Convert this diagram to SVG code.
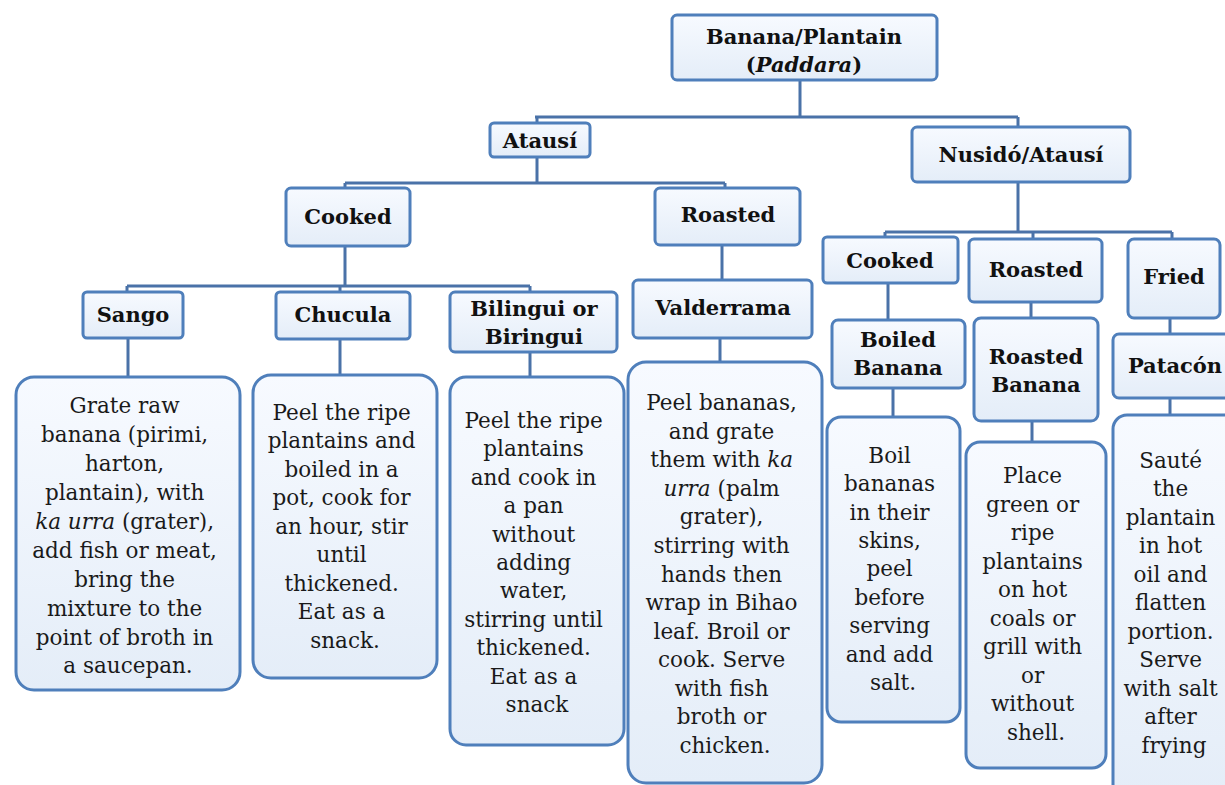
<svg xmlns="http://www.w3.org/2000/svg" width="1225" height="785" viewBox="0 0 1225 785">
<defs>
<linearGradient id="fill" x1="0" y1="0" x2="0" y2="1">
<stop offset="0" stop-color="#f7faff"/>
<stop offset="1" stop-color="#e4edf8"/>
</linearGradient>
<style>
.box{fill:url(#fill);stroke:#4f7fbb;stroke-width:3}
.lbl{font-family:"DejaVu Serif","Liberation Serif",serif;font-weight:bold;font-size:21px;fill:#111;text-anchor:middle}
.txt{font-family:"DejaVu Serif","Liberation Serif",serif;font-size:21.5px;fill:#1a1a1a;text-anchor:middle}
.it{font-style:italic}
.con{fill:none;stroke:#4a72a8;stroke-width:3}
</style>
</defs>
<rect width="1225" height="785" fill="#ffffff"/>
<g id="connectors" class="con">
<path d="M800,80 V117 M535,117 H1018 M537,117 V123 M1018,117 V127"/>
<path d="M537,157 V183 M345,183 H725 M345,183 V188 M725,183 V188"/>
<path d="M345,246 V286 M127,286 H530 M127,286 V292 M340,286 V292 M530,286 V292"/>
<path d="M722,245 V280"/>
<path d="M128,338 V377 M340,339 V375 M530,352 V377 M720,338 V362"/>
<path d="M1018,182 V232 M885,232 H1172 M885,232 V237 M1033,232 V239 M1172,232 V239"/>
<path d="M888,283 V320 M1031,302 V318 M1170,318 V334"/>
<path d="M893,388 V417 M1032,421 V442 M1170,398 V415"/>
</g>
<g id="root"><rect class="box" x="672" y="15" width="265" height="65" rx="5"/>
<text class="lbl" x="804" y="44">Banana/Plantain</text>
<text class="lbl" x="804" y="72">(<tspan class="it">Paddara</tspan>)</text></g>
<g id="atausi"><rect class="box" x="490" y="123" width="100" height="34" rx="4"/>
<text class="lbl" x="540" y="148">Atausí</text></g>
<g id="nusido"><rect class="box" x="912" y="127" width="218" height="55" rx="5"/>
<text class="lbl" x="1021" y="162">Nusidó/Atausí</text></g>
<g id="cooked"><rect class="box" x="286" y="188" width="124" height="58" rx="5"/>
<text class="lbl" x="348" y="224">Cooked</text></g>
<g id="roasted"><rect class="box" x="655" y="188" width="145" height="57" rx="5"/>
<text class="lbl" x="728" y="222">Roasted</text></g>
<g id="sango"><rect class="box" x="83" y="292" width="100" height="46" rx="4"/>
<text class="lbl" x="133" y="322">Sango</text></g>
<g id="chucula"><rect class="box" x="276" y="292" width="134" height="47" rx="4"/>
<text class="lbl" x="343" y="322">Chucula</text></g>
<g id="bilingui"><rect class="box" x="450" y="292" width="167" height="60" rx="5"/>
<text class="lbl" x="534" y="316">Bilingui or</text>
<text class="lbl" x="534" y="344">Biringui</text></g>
<g id="valderrama"><rect class="box" x="633" y="280" width="179" height="58" rx="5"/>
<text class="lbl" x="723" y="315">Valderrama</text></g>
<g id="cooked2"><rect class="box" x="823" y="237" width="135" height="46" rx="4"/>
<text class="lbl" x="890" y="268">Cooked</text></g>
<g id="roasted2"><rect class="box" x="969" y="239" width="133" height="63" rx="5"/>
<text class="lbl" x="1036" y="277">Roasted</text></g>
<g id="fried"><rect class="box" x="1128" y="239" width="92" height="79" rx="6"/>
<text class="lbl" x="1174" y="284">Fried</text></g>
<g id="boiled"><rect class="box" x="832" y="320" width="133" height="68" rx="6"/>
<text class="lbl" x="898" y="347">Boiled</text>
<text class="lbl" x="898" y="375">Banana</text></g>
<g id="roastedbanana"><rect class="box" x="974" y="318" width="124" height="103" rx="7"/>
<text class="lbl" x="1036" y="364">Roasted</text>
<text class="lbl" x="1036" y="392">Banana</text></g>
<g id="patacon"><rect class="box" x="1113" y="334" width="120" height="64" rx="6"/>
<text class="lbl" x="1175" y="373">Patacón</text></g>
<g id="sango-desc"><rect class="box" x="16" y="377" width="224" height="313" rx="18"/>
<text class="txt">
<tspan x="128" y="413">Grate raw</tspan>
<tspan x="128" y="442">banana (pirimi,</tspan>
<tspan x="128" y="471">harton,</tspan>
<tspan x="128" y="500">plantain), with</tspan>
<tspan x="128" y="529"><tspan class="it">ka urra</tspan> (grater),</tspan>
<tspan x="128" y="558">add fish or meat,</tspan>
<tspan x="128" y="587">bring the</tspan>
<tspan x="128" y="616">mixture to the</tspan>
<tspan x="128" y="645">point of broth in</tspan>
<tspan x="128" y="673">a saucepan.</tspan>
</text></g>
<g id="chucula-desc"><rect class="box" x="253" y="375" width="184" height="303" rx="18"/>
<text class="txt">
<tspan x="345" y="420">Peel the ripe</tspan>
<tspan x="345" y="448">plantains and</tspan>
<tspan x="345" y="477">boiled in a</tspan>
<tspan x="345" y="505">pot, cook for</tspan>
<tspan x="345" y="534">an hour, stir</tspan>
<tspan x="345" y="562">until</tspan>
<tspan x="345" y="591">thickened.</tspan>
<tspan x="345" y="619">Eat as a</tspan>
<tspan x="345" y="648">snack.</tspan>
</text></g>
<g id="bilingui-desc"><rect class="box" x="450" y="377" width="174" height="368" rx="16"/>
<text class="txt">
<tspan x="537" y="428">Peel the ripe</tspan>
<tspan x="537" y="456">plantains</tspan>
<tspan x="537" y="485">and cook in</tspan>
<tspan x="537" y="513">a pan</tspan>
<tspan x="537" y="542">without</tspan>
<tspan x="537" y="570">adding</tspan>
<tspan x="537" y="598">water,</tspan>
<tspan x="537" y="627">stirring until</tspan>
<tspan x="537" y="655">thickened.</tspan>
<tspan x="537" y="684">Eat as a</tspan>
<tspan x="537" y="712">snack</tspan>
</text></g>
<g id="valderrama-desc"><rect class="box" x="628" y="362" width="194" height="421" rx="18"/>
<text class="txt">
<tspan x="725" y="410">Peel bananas,</tspan>
<tspan x="725" y="439">and grate</tspan>
<tspan x="725" y="467">them with <tspan class="it">ka</tspan></tspan>
<tspan x="725" y="496"><tspan class="it">urra</tspan> (palm</tspan>
<tspan x="725" y="524">grater),</tspan>
<tspan x="725" y="553">stirring with</tspan>
<tspan x="725" y="582">hands then</tspan>
<tspan x="725" y="610">wrap in Bihao</tspan>
<tspan x="725" y="639">leaf. Broil or</tspan>
<tspan x="725" y="667">cook. Serve</tspan>
<tspan x="725" y="696">with fish</tspan>
<tspan x="725" y="724">broth or</tspan>
<tspan x="725" y="753">chicken.</tspan>
</text></g>
<g id="boil-desc"><rect class="box" x="827" y="417" width="133" height="305" rx="14"/>
<text class="txt">
<tspan x="893" y="463">Boil</tspan>
<tspan x="893" y="491">bananas</tspan>
<tspan x="893" y="520">in their</tspan>
<tspan x="893" y="548">skins,</tspan>
<tspan x="893" y="576">peel</tspan>
<tspan x="893" y="605">before</tspan>
<tspan x="893" y="633">serving</tspan>
<tspan x="893" y="662">and add</tspan>
<tspan x="893" y="690">salt.</tspan>
</text></g>
<g id="place-desc"><rect class="box" x="966" y="442" width="140" height="326" rx="14"/>
<text class="txt">
<tspan x="1036" y="483">Place</tspan>
<tspan x="1036" y="512">green or</tspan>
<tspan x="1036" y="540">ripe</tspan>
<tspan x="1036" y="569">plantains</tspan>
<tspan x="1036" y="597">on hot</tspan>
<tspan x="1036" y="626">coals or</tspan>
<tspan x="1036" y="654">grill with</tspan>
<tspan x="1036" y="683">or</tspan>
<tspan x="1036" y="711">without</tspan>
<tspan x="1036" y="740">shell.</tspan>
</text></g>
<g id="saute-desc"><rect class="box" x="1113" y="415" width="125" height="385" rx="14"/>
<text class="txt">
<tspan x="1174" y="468">Sauté</tspan>
<tspan x="1174" y="496">the</tspan>
<tspan x="1174" y="525">plantain</tspan>
<tspan x="1174" y="553">in hot</tspan>
<tspan x="1174" y="582">oil and</tspan>
<tspan x="1174" y="610">flatten</tspan>
<tspan x="1174" y="639">portion.</tspan>
<tspan x="1174" y="667">Serve</tspan>
<tspan x="1174" y="696">with salt</tspan>
<tspan x="1174" y="724">after</tspan>
<tspan x="1174" y="753">frying</tspan>
</text></g>
</svg>
